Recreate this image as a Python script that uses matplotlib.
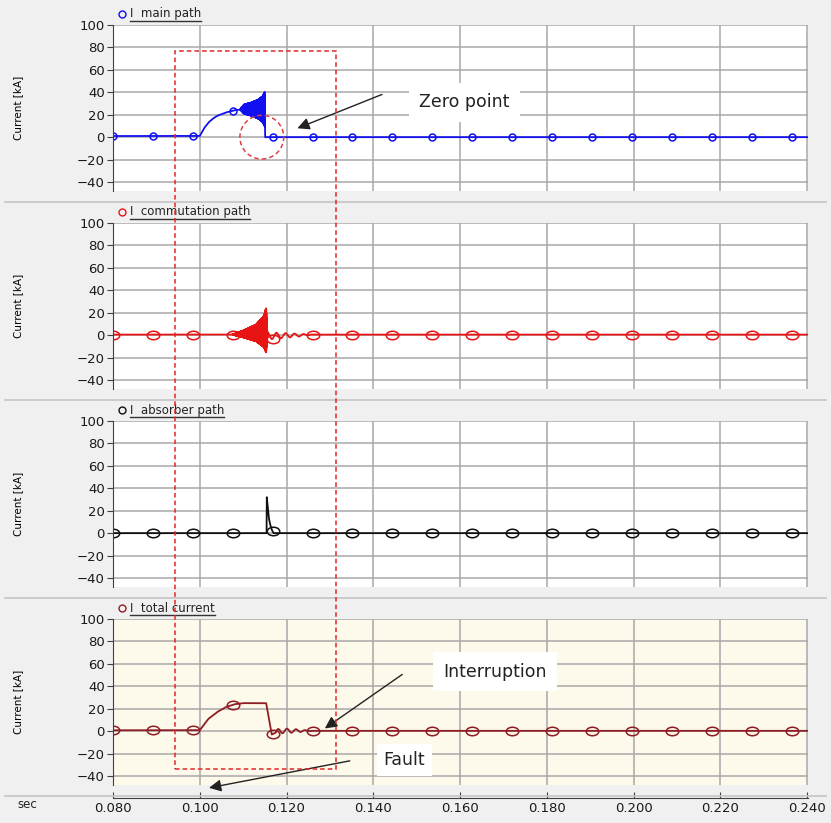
import numpy as np
import matplotlib
matplotlib.use("Agg")
import matplotlib.pyplot as plt
from matplotlib.patches import Rectangle, Ellipse
from matplotlib.lines import Line2D
from matplotlib.path import Path

# ---- data (time in s, current in kA) ----
names = ["I  main path", "I  commutation path", "I  absorber path", "I  total current"]
colors = ["#1010f0", "#e81414", "#101010", "#8e1e24"]

# main path: slow part + growing HF oscillation before zero point
main_t = [0.080, 0.100, 0.101, 0.102, 0.103, 0.104, 0.106, 0.108, 0.110, 0.1150, 0.11505, 0.240]
main_v = [1.0, 1.0, 8.0, 13.0, 16.5, 19.0, 22.0, 24.0, 25.0, 25.0, 0.0, 0.0]
main_env_t = [0.1093, 0.1102, 0.112, 0.1135, 0.1145, 0.1150]
main_env_a = [0.0, 4.0, 6.0, 8.5, 11.5, 15.5]

# commutation path: HF burst then small ringing
comm_t = [0.080, 0.240]
comm_v = [0.5, 0.5]
comm_env_t = [0.1075, 0.110, 0.113, 0.1148, 0.1153, 0.1156]
comm_env_a = [0.0, 3.0, 7.5, 14.0, 20.0, 0.0]
comm_ring_t = [0.1156, 0.117, 0.120, 0.123, 0.126]
comm_ring_a = [4.0, 3.5, 2.5, 1.5, 0.0]

# absorber path: spike at the zero point
absb_t = [0.080, 0.1154, 0.11545, 0.1157, 0.1159, 0.1162, 0.1166, 0.1170, 0.240]
absb_v = [0.0, 0.0, 32.0, 22.0, 14.0, 8.0, 3.0, 0.0, 0.0]

# total current
tot_t = [0.080, 0.100, 0.101, 0.102, 0.104, 0.106, 0.108, 0.110, 0.1153, 0.1166, 0.1185, 0.240]
tot_v = [0.8, 0.8, 6.0, 11.0, 17.0, 21.5, 24.0, 25.0, 25.0, -3.0, 0.3, 0.3]
tot_ring_t = [0.1175, 0.119, 0.122, 0.126]
tot_ring_a = [2.5, 2.2, 1.5, 0.0]

marker_t = np.arange(0.080, 0.2405, 0.0092)
xticks = [0.080, 0.100, 0.120, 0.140, 0.160, 0.180, 0.200, 0.220, 0.240]
yticks = [-40, -20, 0, 20, 40, 60, 80, 100]

# ---- build waveforms ----
t = np.arange(0.080, 0.2400001, 2e-6)
hf = np.sin(2 * np.pi * 20000 * t)
ring = np.sin(2 * np.pi * 480 * (t - 0.1175))

y_main = np.interp(t, main_t, main_v) + np.interp(t, main_env_t, main_env_a, left=0, right=0) * hf
y_comm = (np.interp(t, comm_t, comm_v)
          + np.interp(t, comm_env_t, comm_env_a, left=0, right=0) * hf * np.where(hf > 0, 1.2, 0.8)
          + np.interp(t, comm_ring_t, comm_ring_a, left=0, right=0)
          * (np.cos(2 * np.pi * 480 * (t - 0.1156)) * 0.8 - 0.3))
y_absb = np.interp(t, absb_t, absb_v)
y_tot = np.interp(t, tot_t, tot_v) + np.interp(t, tot_ring_t, tot_ring_a, left=0, right=0) * ring
series = [y_main, y_comm, y_absb, y_tot]

# flattened circle marker
circ = Path.unit_circle()
oval = Path(circ.vertices * np.array([1.0, 0.68]), circ.codes)

W, H = 831, 823
fig = plt.figure(figsize=(W / 100, H / 100), dpi=100, facecolor="#f0f0f0")

def fx(px):
    return px / W

def fy(py):
    return 1 - py / H

axes = []
for k in range(4):
    top = 25 + 198 * k
    bot = top + 166
    ax = fig.add_axes([fx(113), fy(bot), fx(808 - 113), (bot - top) / H])
    ax.set_facecolor("#fdf9eb" if k == 3 else "white")
    ax.plot(t, series[k], color=colors[k], lw=1.3)
    ax.plot(marker_t, np.interp(marker_t, t, series[k]), ls="none",
            marker="o" if k == 0 else oval,
            ms=5 if k == 0 else 9, mfc="none", mec=colors[k], mew=1.1)
    ax.set_xlim(0.080, 0.2402)
    ax.set_ylim(-48, 100)
    ax.set_xticks(xticks)
    ax.set_yticks(yticks)
    ax.grid(True, color="#a8a8a8", lw=1.1)
    ax.set_axisbelow(True)
    ax.tick_params(axis="x", bottom=False, labelbottom=False)
    ax.tick_params(axis="y", labelsize=9.5, length=4, color="#404040", pad=2, labelcolor="#1a1a1a")
    for s in ["top", "right", "bottom"]:
        ax.spines[s].set_visible(False)
    ax.spines["left"].set_color("#404040")
    ax.set_ylabel("Current [kA]", fontsize=7.5, labelpad=4)
    ax.yaxis.set_label_coords(-0.13, 0.5)
    axes.append(ax)

    # header legend
    hy = fy(top - 11)
    fig.lines.append(Line2D([fx(122)], [hy], marker="o", ms=5, mfc="none",
                            mec=colors[k], mew=1.0, transform=fig.transFigure))
    txt = fig.text(fx(130), hy, names[k], fontsize=8.5, va="center", ha="left", color="#222222")
    fig.canvas.draw()
    bb = txt.get_window_extent().transformed(fig.transFigure.inverted())
    fig.lines.append(Line2D([bb.x0, bb.x1], [bb.y0 - 0.001, bb.y0 - 0.001], color="#333333",
                            lw=1.0, transform=fig.transFigure))

    # panel separator
    sep = 202 + 198 * k
    fig.lines.append(Line2D([fx(5), fx(826)], [fy(sep), fy(sep)], color="#c4c4c4",
                            lw=1.2, transform=fig.transFigure))

# bottom time axis
axb = fig.add_axes([fx(113), fy(798), fx(808 - 113), 0.0001])
axb.set_xlim(0.080, 0.2402)
axb.set_xticks(xticks)
axb.set_xticklabels(["%.3f" % v for v in xticks], fontsize=9.5, color="#1a1a1a")
axb.set_yticks([])
axb.tick_params(axis="x", direction="in", length=4, color="#404040", pad=3)
for s in ["top", "left", "right"]:
    axb.spines[s].set_visible(False)
axb.spines["bottom"].set_color("#404040")
fig.text(fx(27), fy(805), "sec", fontsize=8.5, ha="center", va="center", color="#222222")

# red dashed box across all panels
fig.patches.append(Rectangle((fx(175), fy(769)), fx(336 - 175), (769 - 51) / H, fill=False,
                             ec="#e02828", ls=(0, (3, 2)), lw=1.1, transform=fig.transFigure,
                             zorder=10))

# zero point circle
axes[0].add_patch(Ellipse((0.1143, 0.0), 0.0101, 39.0, fill=False, ec="#e04040",
                          ls=(0, (3, 2)), lw=1.1, zorder=5))

box = dict(boxstyle="square,pad=0.6", fc="white", ec="none")
arrow = dict(arrowstyle="-|>", color="#222222", lw=1.0, mutation_scale=18)

axes[0].text(0.161, 31, "Zero point", fontsize=12.5, ha="center", va="center",
             color="#222222", bbox=box, zorder=6)
axes[0].annotate("", xy=(0.1219, 7), xytext=(0.1426, 39), arrowprops=arrow, zorder=7)

axes[3].text(0.168, 53, "Interruption", fontsize=12.5, ha="center", va="center",
             color="#222222", bbox=box, zorder=6)
axes[3].annotate("", xy=(0.1283, 1), xytext=(0.1472, 52), arrowprops=arrow, zorder=7)

axes[3].text(0.1472, -26, "Fault", fontsize=12.5, ha="center", va="center",
             color="#222222", bbox=dict(boxstyle="square,pad=0.4", fc="white", ec="none"), zorder=6)
axes[3].annotate("", xy=(0.1015, -51), xytext=(0.1352, -26), arrowprops=arrow,
                 annotation_clip=False, zorder=7)

fig.savefig("out.png", dpi=100, facecolor=fig.get_facecolor())
